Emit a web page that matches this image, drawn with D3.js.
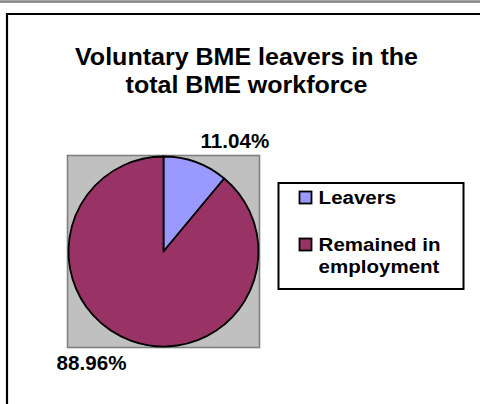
<!DOCTYPE html>
<html>
<head>
<meta charset="utf-8">
<script src="https://cdn.jsdelivr.net/npm/d3@7"></script>
<style>
  html, body { margin: 0; padding: 0; background: #fff; }
  svg { display: block; }
  text { font-family: "Liberation Sans", Arial, sans-serif; font-weight: bold; fill: #000; }
</style>
</head>
<body>
<svg id="chart" width="480" height="404"></svg>
<script>
// Chart content
const titleLines = ["Voluntary BME leavers in the", "total BME workforce"];
const categories = ["Leavers", "Remained in employment"];
const legendLines = [["Leavers"], ["Remained in", "employment"]];
const values = [11.04, 88.96];
const valueLabels = ["11.04%", "88.96%"];
const sliceColors = ["#9999FF", "#993366"];

const svg = d3.select("#chart");

// Page band and chart frame
svg.append("rect").attr("x", 0).attr("y", 0).attr("width", 480).attr("height", 2.5).attr("fill", "#a8a8a8");
svg.append("line").attr("x1", 0).attr("x2", 480).attr("y1", 2).attr("y2", 2).attr("stroke", "#606060").attr("stroke-width", 1);
svg.append("path")
  .attr("d", "M7,404 L7,14 L480,14")
  .attr("fill", "none").attr("stroke", "#000").attr("stroke-width", 2.2);

// Title
const title = svg.append("g");
titleLines.forEach((t, i) => {
  title.append("text")
    .attr("transform", `translate(246.5,${65 + i * 27.5}) scale(1.065,1)`)
    .attr("text-anchor", "middle")
    .attr("font-size", 23.5)
    .text(t);
});

// Plot area
const cx = 163.5, cy = 251.5, radius = 95;
svg.append("rect")
  .attr("x", cx - radius - 96 + radius).attr("y", cy - 96)
  .attr("width", 192).attr("height", 192)
  .attr("fill", "#C0C0C0").attr("stroke", "#808080").attr("stroke-width", 1.6);

const pie = d3.pie().sort(null).value(d => d);
const arcs = pie(values);
const arc = d3.arc().innerRadius(0).outerRadius(radius);

const pg = svg.append("g").attr("transform", `translate(${cx},${cy})`);
pg.selectAll("path.slice")
  .data(arcs)
  .join("path")
  .attr("class", "slice")
  .attr("d", arc)
  .attr("fill", (d, i) => sliceColors[i])
  .attr("stroke", "#000")
  .attr("stroke-width", 1.8)
  .attr("stroke-linejoin", "round");

// Outside-end value labels: anchored on the bisector just beyond the rim
const labelR = radius + 14;
arcs.forEach((d, i) => {
  const a = (d.startAngle + d.endAngle) / 2;
  const px = Math.sin(a) * labelR;
  const py = -Math.cos(a) * labelR;
  const right = Math.sin(a) >= 0;
  const above = Math.cos(a) >= 0;
  pg.append("text")
    .attr("transform", `translate(${px},${py + (above ? -1 : 16)}) scale(1.03,1)`)
    .attr("text-anchor", right ? "start" : "end")
    .attr("font-size", 20)
    .text(valueLabels[i]);
});

// Legend
const lg = svg.append("g");
lg.append("rect")
  .attr("x", 278.5).attr("y", 183).attr("width", 185).attr("height", 106)
  .attr("fill", "#fff").attr("stroke", "#000").attr("stroke-width", 2);

const itemY = [191.5, 238.5];
categories.forEach((c, i) => {
  lg.append("rect")
    .attr("x", 299.5).attr("y", itemY[i]).attr("width", 12).attr("height", 12)
    .attr("fill", sliceColors[i]).attr("stroke", "#000").attr("stroke-width", 1.8);
  legendLines[i].forEach((t, j) => {
    lg.append("text")
      .attr("transform", `translate(318.6,${itemY[i] + 12.5 + j * 21.6}) scale(1.08,1)`)
      .attr("font-size", 19)
      .text(t);
  });
});
</script>
</body>
</html>
